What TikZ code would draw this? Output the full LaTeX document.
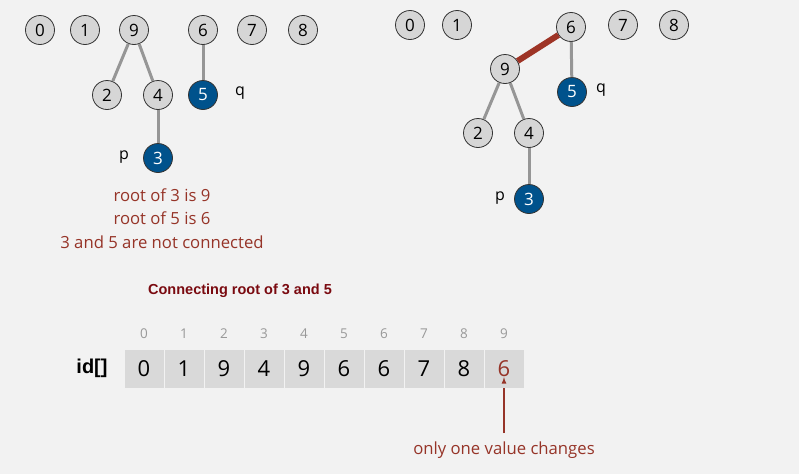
\documentclass[tikz,border=0pt]{standalone}
\usepackage{fontspec}
\setmainfont{Open Sans}
\newfontfamily\arialfont{Liberation Sans}
\usetikzlibrary{positioning}
\definecolor{bgcol}{RGB}{242,242,242}
\definecolor{nodegray}{RGB}{214,214,214}
\definecolor{pqblue}{RGB}{0,82,140}
\definecolor{edgegray}{RGB}{150,150,150}
\definecolor{linkred}{RGB}{158,52,38}
\definecolor{textred}{RGB}{150,52,40}
\definecolor{titlered}{RGB}{122,10,16}
\definecolor{cellgray}{RGB}{217,217,217}
\tikzset{
	site/.style={circle, draw=black!80, line width=0.8pt, fill=nodegray, minimum size=29pt, inner sep=0pt, font=\fontsize{17}{17}\selectfont},
	pqsite/.style={site, fill=pqblue, text=white},
	link/.style={draw=edgegray, line width=3pt},
	newlink/.style={draw=linkred, line width=6pt},
	note/.style={text=textred, font=\fontsize{16.7}{18}\selectfont},
	cell/.style={fill=cellgray, minimum width=39pt, minimum height=38pt, inner sep=0pt, font=\fontsize{22}{22}\selectfont},
	idx/.style={text=black!40, font=\fontsize{13.5}{13.5}\selectfont},
	tag/.style={font=\fontsize{16}{16}\selectfont}
}

\begin{document}
\begin{tikzpicture}[x=1pt, y=-1pt]
		\fill[bgcol] (0, 0) rectangle (799, 474);
		\useasboundingbox (0, 0) rectangle (799, 474);

		% before the union
		\node[site] (a0) at (40, 30) {0};
		\node[site] (a1) at (85, 30) {1};
		\node[site] (a9) at (134, 30) {9};
		\node[site] (a6) at (203, 30) {6};
		\node[site] (a7) at (252, 30) {7};
		\node[site] (a8) at (303, 30) {8};
		\node[site] (a2) at (107, 95) {2};
		\node[site] (a4) at (158, 95) {4};
		\node[pqsite] (a5) at (203, 95) {5};
		\node[pqsite] (a3) at (158, 158) {3};
		\node[tag] (aq) at (240, 93) {q};
		\node[tag] (ap) at (124, 157) {p};
		\draw[link] (a9) -- (a2);
		\draw[link] (a9) -- (a4);
		\draw[link] (a4) -- (a3);
		\draw[link] (a6) -- (a5);

		\node[note] (r3) at (162, 195) {root of 3 is 9};
		\node[note] (r5) at (162, 218) {root of 5 is 6};
		\node[note] (nc) at (162, 242) {3 and 5 are not connected};

		% after the union
		\node[site] (b0) at (410, 25) {0};
		\node[site] (b1) at (457, 25) {1};
		\node[site] (b6) at (571, 27) {6};
		\node[site] (b7) at (623, 25) {7};
		\node[site] (b8) at (674, 25) {8};
		\node[site] (b9) at (505, 69) {9};
		\node[pqsite] (b5) at (572, 92) {5};
		\node[site] (b2) at (478, 133) {2};
		\node[site] (b4) at (529, 133) {4};
		\node[pqsite] (b3) at (529, 199) {3};
		\node[tag] (bq) at (601, 90) {q};
		\node[tag] (bp) at (500, 198) {p};
		\draw[newlink] (b9) -- (b6);
		\draw[link] (b6) -- (b5);
		\draw[link] (b9) -- (b2);
		\draw[link] (b9) -- (b4);
		\draw[link] (b4) -- (b3);

		\node[text=titlered, font=\arialfont\bfseries\fontsize{14.5}{14.5}\selectfont] (title) at (240, 291) {Connecting root of 3 and 5};

		% id[] array
		\node[font=\arialfont\bfseries\fontsize{20}{20}\selectfont] (idlabel) at (92, 368) {id[]};
		\foreach \i/\v in {0/0, 1/1, 2/9, 3/4, 4/9, 5/6, 6/6, 7/7, 8/8} {
			\node[cell] (c\i) at (144 + 40*\i, 369) {\v};
			\node[idx] (n\i) at (144 + 40*\i, 334) {\i};
		}
		\node[cell, text=textred] (c9) at (504, 369) {6};
		\node[idx] (n9) at (504, 334) {9};

		\node[note] (chg) at (504, 450) {only one value changes};
		\draw[->, >=latex, textred, line width=1.2pt] (chg.north) ++(0, -5) coordinate (tail) (tail) -- (c9.south) ++(0, -11);
		
		
	\end{tikzpicture}
\end{document}
